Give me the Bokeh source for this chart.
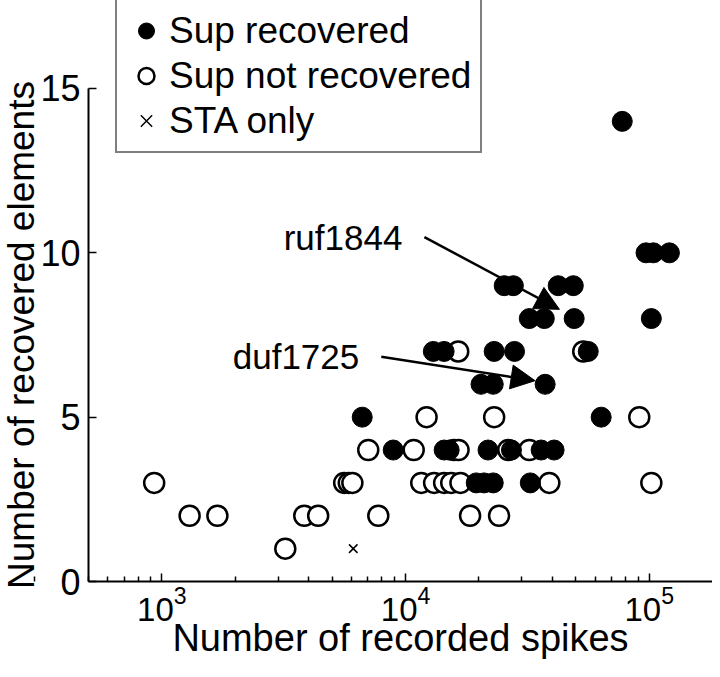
from bokeh.plotting import figure
from bokeh.models import (Range1d, FixedTicker, Legend, LegendItem, Arrow,
                          NormalHead, Label, LogTickFormatter)
from bokeh.embed import file_html
from bokeh.resources import INLINE

# ---- data ----
rec_spikes = [77500,
              97000, 104000, 121000,
              25400, 27700, 42300, 48800,
              32200, 37100, 49200, 102000,
              13000, 14400, 23100, 28000, 56200,
              20400, 22900, 37400,
              6640, 63500,
              8900, 14400, 15100, 21800, 27200, 36000, 40700,
              19500, 21000, 22900, 32500]
rec_elems = [14,
             10, 10, 10,
             9, 9, 9, 9,
             8, 8, 8, 8,
             7, 7, 7, 7, 7,
             6, 6, 6,
             5, 5,
             4, 4, 4, 4, 4, 4, 4,
             3, 3, 3, 3]

notrec_spikes = [16450, 53600,
                 12200, 23100, 91000,
                 7030, 10800, 15800, 16500, 26400, 32200,
                 930, 5600, 5850, 6050, 11600, 13100, 14400, 15400, 16800, 38900, 102000,
                 1300, 1690, 3840, 4380, 7730, 18400, 24200,
                 3210]
notrec_elems = [7, 7,
                5, 5, 5,
                4, 4, 4, 4, 4, 4,
                3, 3, 3, 3, 3, 3, 3, 3, 3, 3, 3,
                2, 2, 2, 2, 2, 2, 2,
                1]

sta_spikes = [6100]
sta_elems = [1]

legend_labels = ["Sup recovered", "Sup not recovered", "STA only"]
y_ticks = [0, 5, 10, 15]
y_axis_bounds = (0, 15)
x_axis_bounds = (500, 181800)
x_ticks = [1e3, 1e4, 1e5]
x_minor = [m * d for d in (1e2, 1e3, 1e4, 1e5) for m in range(2, 10)]

ann_names = ["ruf1844", "duf1725"]
ann_x_start = [11950, 7950]
ann_y_start = [10.48, 6.84]
ann_x_end = [42800, 34000]
ann_y_end = [8.28, 6.11]

FONT = "Liberation Sans"

# axes are pinned at x=500 and y=0 inside a frame that fills the figure
p = figure(width=712, height=661, x_axis_type="log",
           x_range=Range1d(217.7, 181800), y_range=Range1d(-2.434, 17.677),
           output_backend="svg", toolbar_location=None,
           min_border_left=0, min_border_right=0,
           min_border_top=0, min_border_bottom=0)
p.outline_line_color = None
p.grid.visible = False
p.background_fill_color = "white"
p.border_fill_color = "white"

r_not = p.scatter(notrec_spikes, notrec_elems, marker="circle", size=20,
                  fill_color="white", line_color="black", line_width=2.5)
r_rec = p.scatter(rec_spikes, rec_elems, marker="circle", size=20,
                  fill_color="black", line_color="black", line_width=1)
r_sta = p.scatter(sta_spikes, sta_elems, marker="x", size=12,
                  line_color="black", line_width=1.5)

for name, xs, ys, xe, ye in zip(ann_names, ann_x_start, ann_y_start, ann_x_end, ann_y_end):
    p.add_layout(Arrow(end=NormalHead(size=24, fill_color="black", line_color="black"),
                       x_start=xs, y_start=ys, x_end=xe, y_end=ye,
                       line_color="black", line_width=2.5))
    p.add_layout(Label(x=xs, y=ys, text=name, x_offset=-22, text_align="right",
                       text_baseline="middle", text_font=FONT,
                       text_font_size="35px", text_color="black"))

# axes
for ax in (p.xaxis[0], p.yaxis[0]):
    ax.axis_line_width = 2
    ax.axis_line_color = "black"
    ax.major_tick_in = 8
    ax.major_tick_out = 0
    ax.major_tick_line_width = 1.5
    ax.major_tick_line_color = "black"
    ax.major_label_text_font = FONT
    ax.major_label_text_color = "black"
    ax.axis_label_text_font = FONT
    ax.axis_label_text_font_style = "normal"
    ax.axis_label_text_color = "black"

p.xaxis.fixed_location = 0
p.xaxis.bounds = x_axis_bounds
p.xaxis.ticker = FixedTicker(ticks=x_ticks, minor_ticks=x_minor)
p.xaxis.formatter = LogTickFormatter()
p.xaxis.minor_tick_in = 5
p.xaxis.minor_tick_out = 0
p.xaxis.minor_tick_line_width = 1.5
p.xaxis.minor_tick_line_color = "black"
p.xaxis.axis_label = "Number of recorded spikes"
p.xaxis.major_label_text_font_size = "33px"
p.xaxis.axis_label_text_font_size = "38px"
p.xaxis.major_label_standoff = 4
p.xaxis.axis_label_standoff = -7

p.yaxis.fixed_location = 500
p.yaxis.bounds = y_axis_bounds
p.yaxis.ticker = FixedTicker(ticks=y_ticks)
p.yaxis.minor_tick_line_color = None
p.yaxis.minor_tick_in = 0
p.yaxis.minor_tick_out = 0
p.yaxis.axis_label = "Number of recovered elements"
p.yaxis.major_label_text_font_size = "36px"
p.yaxis.axis_label_text_font_size = "37px"
p.yaxis.major_label_standoff = 8
p.yaxis.axis_label_standoff = -5

legend = Legend(items=[LegendItem(label=legend_labels[0], renderers=[r_rec]),
                       LegendItem(label=legend_labels[1], renderers=[r_not]),
                       LegendItem(label=legend_labels[2], renderers=[r_sta])],
                location=(115, 508))
legend.label_text_font = FONT
legend.label_text_font_size = "37px"
legend.label_text_color = "black"
legend.glyph_width = 40
legend.glyph_height = 43
legend.label_height = 43
legend.label_standoff = 3
legend.spacing = 2
legend.padding = 9
legend.margin = 0
legend.border_line_color = "black"
legend.border_line_width = 2
legend.background_fill_color = "white"
legend.background_fill_alpha = 1
p.add_layout(legend)

open("out.html", "w").write(file_html(p, INLINE))
